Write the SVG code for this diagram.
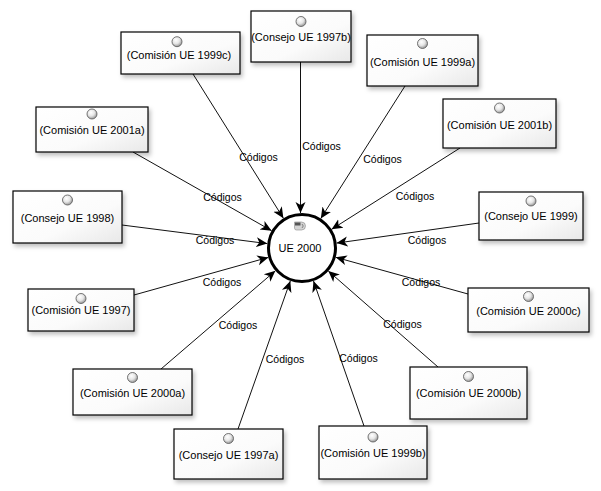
<svg xmlns="http://www.w3.org/2000/svg" width="601" height="491" viewBox="0 0 601 491">
<style>
.box{fill:url(#boxg);stroke:#000;stroke-width:1.2;filter:url(#sh)}
.bt{font-family:"Liberation Sans",Arial,sans-serif;font-size:11px;fill:#000;text-anchor:middle}
.lb{font-family:"Liberation Sans",Arial,sans-serif;font-size:10.5px;fill:#000;text-anchor:middle}
.ball{fill:url(#ballg);stroke:#555;stroke-width:0.8}
.con{stroke:#111;stroke-width:1;fill:none;marker-end:url(#arr)}
</style>
<defs>
<linearGradient id="boxg" x1="0" y1="0" x2="1" y2="1">
<stop offset="0" stop-color="#ffffff"/>
<stop offset="0.6" stop-color="#fbfbfb"/>
<stop offset="1" stop-color="#e8e8e8"/>
</linearGradient>
<radialGradient id="ballg" cx="0.4" cy="0.35" r="0.7">
<stop offset="0" stop-color="#ffffff"/>
<stop offset="0.5" stop-color="#e6e6e6"/>
<stop offset="1" stop-color="#8a8a8a"/>
</radialGradient>
<filter id="sh" x="-10%" y="-10%" width="130%" height="140%">
<feDropShadow dx="2" dy="3" stdDeviation="2" flood-color="#000" flood-opacity="0.25"/>
</filter>
<marker id="arr" markerUnits="userSpaceOnUse" markerWidth="12" markerHeight="12" refX="11" refY="5" orient="auto" viewBox="0 0 12 10">
<path d="M0,0 L11,5 L0,10 L3,5 Z" fill="#000"/>
</marker>
</defs>
<rect width="601" height="491" fill="#fff"/>

<g id="connectors">
<line class="con" x1="193" y1="74" x2="283.4" y2="218.3"/>
<line class="con" x1="300.5" y1="62" x2="300.5" y2="213"/>
<line class="con" x1="405" y1="86" x2="320.8" y2="218.5"/>
<line class="con" x1="460" y1="148" x2="331.6" y2="229.3"/>
<line class="con" x1="133" y1="152" x2="271.6" y2="230.7"/>
<line class="con" x1="122" y1="225" x2="267.3" y2="243.6"/>
<line class="con" x1="479" y1="223" x2="336.6" y2="243.1"/>
<line class="con" x1="468" y1="294" x2="335.7" y2="257.3"/>
<line class="con" x1="438" y1="367" x2="328.3" y2="271"/>
<line class="con" x1="364" y1="426" x2="313.5" y2="281"/>
<line class="con" x1="134" y1="295" x2="268.3" y2="257.4"/>
<line class="con" x1="161" y1="369" x2="275.4" y2="270.8"/>
<line class="con" x1="238" y1="429" x2="290.3" y2="281"/>
<text class="lb" x="258.5" y="160.5">Códigos</text>
<text class="lb" x="321.5" y="149.5">Códigos</text>
<text class="lb" x="382.5" y="163">Códigos</text>
<text class="lb" x="222.5" y="201">Códigos</text>
<text class="lb" x="415" y="200">Códigos</text>
<text class="lb" x="215" y="244">Códigos</text>
<text class="lb" x="427" y="244">Códigos</text>
<text class="lb" x="222" y="286">Códigos</text>
<text class="lb" x="421" y="286">Códigos</text>
<text class="lb" x="238" y="329">Códigos</text>
<text class="lb" x="402.5" y="328">Códigos</text>
<text class="lb" x="285" y="363">Códigos</text>
<text class="lb" x="358.5" y="361.5">Códigos</text>
</g>

<g id="ue2000">
<circle cx="302" cy="248" r="33.5" fill="#fff" stroke="#000" stroke-width="3"/>
<path d="M294.5,222 h7 q4,0 4,4 q0,4 -4,4 h-5 q-2,0 -2,-2 Z" fill="#d4d4d4" stroke="#8a8a8a" stroke-width="0.6"/>
<rect x="295" y="222.5" width="5.5" height="3" fill="#555"/>
<path d="M302,224 q2.5,2 0,4" fill="none" stroke="#777" stroke-width="0.9"/>
<text class="bt" x="300" y="252">UE 2000</text>
</g>

<g id="n1999c"><rect class="box" x="121" y="32" width="119" height="42"/><circle class="ball" cx="177" cy="41.7" r="5"/><text class="bt" x="179" y="59">(Comisión UE 1999c)</text></g>
<g id="n1997b"><rect class="box" x="251" y="11" width="100" height="51"/><circle class="ball" cx="301" cy="21.5" r="5"/><text class="bt" x="301" y="40.7">(Consejo UE 1997b)</text></g>
<g id="n1999a"><rect class="box" x="367" y="35" width="111" height="51"/><circle class="ball" cx="422.5" cy="43.5" r="5"/><text class="bt" x="422.5" y="65.7">(Comisión UE 1999a)</text></g>
<g id="n2001b"><rect class="box" x="443" y="99" width="113" height="49"/><circle class="ball" cx="499.5" cy="108" r="5"/><text class="bt" x="499.5" y="129">(Comisión UE 2001b)</text></g>
<g id="n2001a"><rect class="box" x="36" y="107" width="112" height="45"/><circle class="ball" cx="92" cy="114" r="5"/><text class="bt" x="92" y="134">(Comisión UE 2001a)</text></g>
<g id="n1998"><rect class="box" x="13" y="191" width="109" height="52"/><circle class="ball" cx="67.5" cy="200" r="5"/><text class="bt" x="67.5" y="222.3">(Consejo UE 1998)</text></g>
<g id="n1999"><rect class="box" x="479" y="192" width="104" height="48"/><circle class="ball" cx="531" cy="201" r="5"/><text class="bt" x="531" y="220">(Consejo UE 1999)</text></g>
<g id="n2000c"><rect class="box" x="468" y="288" width="121" height="44"/><circle class="ball" cx="528.5" cy="296.5" r="5"/><text class="bt" x="528.5" y="315">(Comisión UE 2000c)</text></g>
<g id="n2000b"><rect class="box" x="410" y="367" width="117" height="52"/><circle class="ball" cx="468.5" cy="376.5" r="5"/><text class="bt" x="468.5" y="397.3">(Comisión UE 2000b)</text></g>
<g id="n1999b"><rect class="box" x="319" y="426" width="108" height="53"/><circle class="ball" cx="373" cy="437" r="5"/><text class="bt" x="373" y="457.3">(Comisión UE 1999b)</text></g>
<g id="n1997"><rect class="box" x="28" y="289" width="106" height="42"/><circle class="ball" cx="81" cy="298.5" r="5"/><text class="bt" x="81" y="314">(Comisión UE 1997)</text></g>
<g id="n2000a"><rect class="box" x="73" y="369" width="119" height="46"/><circle class="ball" cx="132.5" cy="377.5" r="5"/><text class="bt" x="132.5" y="396.7">(Comisión UE 2000a)</text></g>
<g id="n1997a"><rect class="box" x="174" y="429" width="109" height="50"/><circle class="ball" cx="228.5" cy="438.5" r="5"/><text class="bt" x="228.5" y="459">(Consejo UE 1997a)</text></g>
</svg>
